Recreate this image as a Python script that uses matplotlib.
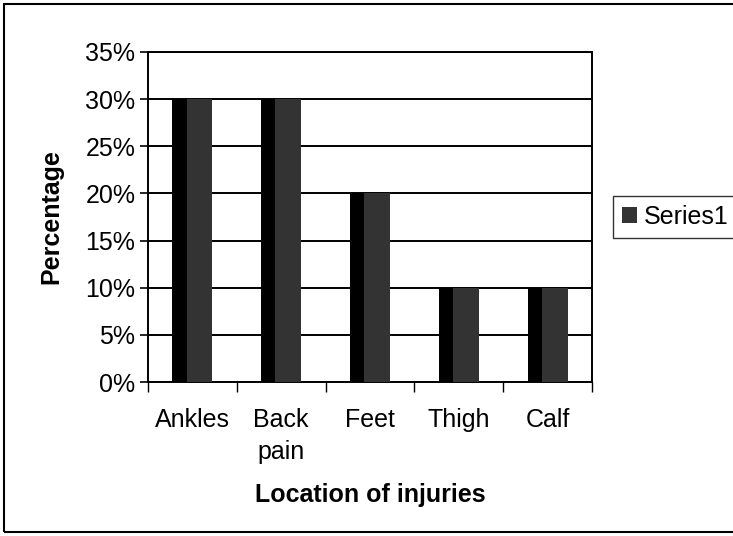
import matplotlib
matplotlib.use("Agg")
import matplotlib.pyplot as plt
import numpy as np
from matplotlib.patches import Rectangle

plt.rcParams['font.family'] = ['Liberation Sans', 'DejaVu Sans']

# data
categories = ["Ankles", "Back\npain", "Feet", "Thigh", "Calf"]
values = [30, 30, 20, 10, 10]   # percent
series_name = "Series1"

fig = plt.figure(figsize=(7.33, 5.36), dpi=100)
ax = fig.add_axes([0.2019, 0.2873, 0.6057, 0.6157])

x = np.arange(len(categories))
bw = 0.45
ax.bar(x, values, width=bw, color="#333333", label=series_name, zorder=3)
# darker left face of each bar
ax.bar(x - bw / 2, values, width=0.16, align="edge", color="black", zorder=3)

ax.set_xlim(-0.5, len(categories) - 0.5)
ax.set_ylim(0, 35)
yt = np.arange(0, 36, 5)
ax.set_yticks(yt)
ax.set_yticklabels([f"{v}%" for v in yt], fontsize=18)
ax.yaxis.grid(True, color="black", linewidth=1.4, zorder=1)
ax.tick_params(axis="y", direction="out", length=6, width=1.2, pad=3)

# ticks at category borders, labels at centres
ax.set_xticks(np.arange(len(categories) + 1) - 0.5)
ax.set_xticklabels([])
ax.tick_params(axis="x", which="major", direction="out", length=7, width=1.0)
ax.set_xticks(x, minor=True)
ax.set_xticklabels(categories, minor=True, fontsize=18, va="top", linespacing=1.4)
ax.tick_params(axis="x", which="minor", length=0, pad=19)

for s in ax.spines.values():
    s.set_linewidth(1.4)
    s.set_color("black")

ax.set_ylabel("Percentage", fontsize=18, fontweight="bold", labelpad=16)
ax.set_xlabel("Location of injuries", fontsize=18, fontweight="bold")
ax.xaxis.set_label_coords(0.5, -0.305)

handles, labels = ax.get_legend_handles_labels()
leg = fig.legend(handles[:1], labels[:1], loc="center left",
                 bbox_to_anchor=(0.836, 0.595), fontsize=18, frameon=True,
                 fancybox=False, edgecolor="black", handlelength=0.6,
                 handleheight=0.6, handletextpad=0.3, borderpad=0.35,
                 borderaxespad=0)
leg.get_frame().set_linewidth(1.0)

fig.patches.append(Rectangle((0.006, 0.008), 1.2, 0.985, transform=fig.transFigure,
                             fill=False, edgecolor="black", linewidth=1.5))

fig.savefig("out.png", dpi=100)
